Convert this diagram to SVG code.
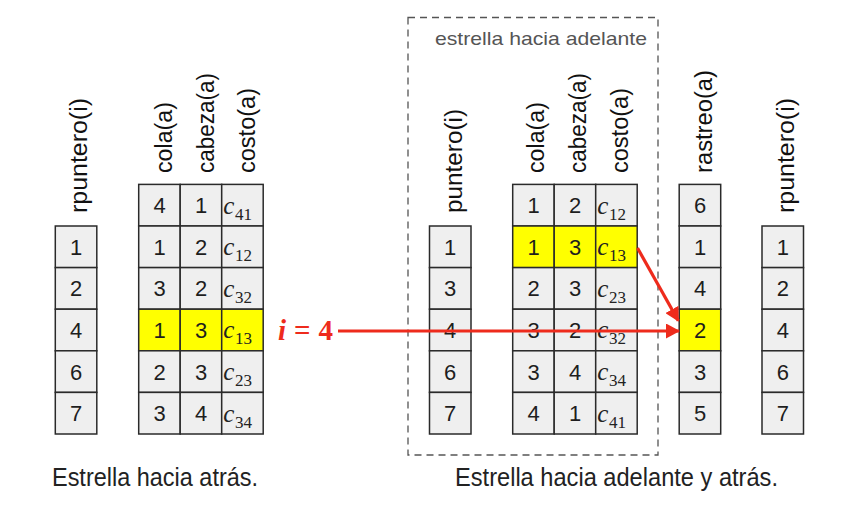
<svg xmlns="http://www.w3.org/2000/svg" width="844" height="514" viewBox="0 0 844 514">
<style>
.cell{fill:#efefef;stroke:#2a2a2a;stroke-width:1.5}
.hl{fill:#ffff00}
.num{font-family:"Liberation Sans",Arial,sans-serif;font-size:22px;text-anchor:middle;fill:#1e1e1e}
.c{font-family:"Liberation Serif","Times New Roman",serif;font-style:italic;font-size:25px;fill:#222}
.sub{font-family:"Liberation Serif","Times New Roman",serif;font-size:17px;fill:#222}
.hdr{font-family:"Liberation Sans",Arial,sans-serif;font-size:23px;fill:#111}
.cap{font-family:"Liberation Sans",Arial,sans-serif;font-size:26px;fill:#222}
.box{fill:none;stroke:#555;stroke-width:1.3;stroke-dasharray:7 5}
.red{stroke:#ee2b1c;stroke-width:3.2;fill:none}
</style>
<defs>
<marker id="ah" viewBox="0 0 14 15" refX="13" refY="7.5" markerWidth="14" markerHeight="15" orient="auto" markerUnits="userSpaceOnUse">
<path d="M0,0 L14,7.5 L0,15 z" fill="#ee2b1c"/>
</marker>
</defs>
<rect width="844" height="514" fill="#ffffff"/>

<g id="frame-adelante">
<rect class="box" x="408" y="17.5" width="250" height="437.5"/>
<text x="435" y="45" font-family="Liberation Sans, Arial, sans-serif" font-size="19" fill="#555" textLength="212" lengthAdjust="spacingAndGlyphs">estrella hacia adelante</text>
</g>

<g id="left-rpuntero">
<text class="hdr" transform="translate(87.3,213) rotate(-90)" textLength="115" lengthAdjust="spacingAndGlyphs">rpuntero(i)</text>
<rect class="cell" x="55.3" y="226" width="41.5" height="41.6"/>
<rect class="cell" x="55.3" y="267.6" width="41.5" height="41.6"/>
<rect class="cell" x="55.3" y="309.2" width="41.5" height="41.6"/>
<rect class="cell" x="55.3" y="350.8" width="41.5" height="41.6"/>
<rect class="cell" x="55.3" y="392.4" width="41.5" height="41.6"/>
<text class="num" x="76" y="254.8">1</text>
<text class="num" x="76" y="296.4">2</text>
<text class="num" x="76" y="338">4</text>
<text class="num" x="76" y="379.6">6</text>
<text class="num" x="76" y="421.2">7</text>
</g>

<g id="left-arcos">
<text class="hdr" transform="translate(172.2,173) rotate(-90)" textLength="71" lengthAdjust="spacingAndGlyphs">cola(a)</text>
<text class="hdr" transform="translate(213.7,173) rotate(-90)" textLength="100" lengthAdjust="spacingAndGlyphs">cabeza(a)</text>
<text class="hdr" transform="translate(254.7,173) rotate(-90)" textLength="85" lengthAdjust="spacingAndGlyphs">costo(a)</text>
<rect class="cell" x="138.7" y="184.4" width="41.5" height="41.6"/><rect class="cell" x="180.2" y="184.4" width="41.5" height="41.6"/><rect class="cell" x="221.7" y="184.4" width="41.5" height="41.6"/>
<rect class="cell" x="138.7" y="226" width="41.5" height="41.6"/><rect class="cell" x="180.2" y="226" width="41.5" height="41.6"/><rect class="cell" x="221.7" y="226" width="41.5" height="41.6"/>
<rect class="cell" x="138.7" y="267.6" width="41.5" height="41.6"/><rect class="cell" x="180.2" y="267.6" width="41.5" height="41.6"/><rect class="cell" x="221.7" y="267.6" width="41.5" height="41.6"/>
<rect class="cell hl" x="138.7" y="309.2" width="41.5" height="41.6"/><rect class="cell hl" x="180.2" y="309.2" width="41.5" height="41.6"/><rect class="cell hl" x="221.7" y="309.2" width="41.5" height="41.6"/>
<rect class="cell" x="138.7" y="350.8" width="41.5" height="41.6"/><rect class="cell" x="180.2" y="350.8" width="41.5" height="41.6"/><rect class="cell" x="221.7" y="350.8" width="41.5" height="41.6"/>
<rect class="cell" x="138.7" y="392.4" width="41.5" height="41.6"/><rect class="cell" x="180.2" y="392.4" width="41.5" height="41.6"/><rect class="cell" x="221.7" y="392.4" width="41.5" height="41.6"/>
<text class="num" x="159.5" y="213.2">4</text><text class="num" x="201" y="213.2">1</text>
<text class="num" x="159.5" y="254.8">1</text><text class="num" x="201" y="254.8">2</text>
<text class="num" x="159.5" y="296.4">3</text><text class="num" x="201" y="296.4">2</text>
<text class="num" x="159.5" y="338">1</text><text class="num" x="201" y="338">3</text>
<text class="num" x="159.5" y="379.6">2</text><text class="num" x="201" y="379.6">3</text>
<text class="num" x="159.5" y="421.2">3</text><text class="num" x="201" y="421.2">4</text>
<text class="c" x="223.2" y="213.5">c</text><text class="sub" x="235" y="219.5">41</text>
<text class="c" x="223.2" y="255.1">c</text><text class="sub" x="235" y="261.1">12</text>
<text class="c" x="223.2" y="296.7">c</text><text class="sub" x="235" y="302.7">32</text>
<text class="c" x="223.2" y="338.3">c</text><text class="sub" x="235" y="344.3">13</text>
<text class="c" x="223.2" y="379.9">c</text><text class="sub" x="235" y="385.9">23</text>
<text class="c" x="223.2" y="421.5">c</text><text class="sub" x="235" y="427.5">34</text>
</g>

<g id="label-i4">
<text x="278" y="340" font-family="Liberation Serif, Times New Roman, serif" font-size="29" font-weight="bold" fill="#ee2b1c"><tspan font-style="italic">i</tspan><tspan dx="8">=</tspan><tspan dx="8">4</tspan></text>
</g>

<g id="right-puntero">
<text class="hdr" transform="translate(461.5,213) rotate(-90)" textLength="104" lengthAdjust="spacingAndGlyphs">puntero(i)</text>
<rect class="cell" x="429.5" y="226" width="41.5" height="41.6"/>
<rect class="cell" x="429.5" y="267.6" width="41.5" height="41.6"/>
<rect class="cell" x="429.5" y="309.2" width="41.5" height="41.6"/>
<rect class="cell" x="429.5" y="350.8" width="41.5" height="41.6"/>
<rect class="cell" x="429.5" y="392.4" width="41.5" height="41.6"/>
<text class="num" x="450.2" y="254.8">1</text>
<text class="num" x="450.2" y="296.4">3</text>
<text class="num" x="450.2" y="338">4</text>
<text class="num" x="450.2" y="379.6">6</text>
<text class="num" x="450.2" y="421.2">7</text>
</g>

<g id="right-arcos">
<text class="hdr" transform="translate(544,173) rotate(-90)" textLength="71" lengthAdjust="spacingAndGlyphs">cola(a)</text>
<text class="hdr" transform="translate(585.5,173) rotate(-90)" textLength="100" lengthAdjust="spacingAndGlyphs">cabeza(a)</text>
<text class="hdr" transform="translate(627.7,173) rotate(-90)" textLength="85" lengthAdjust="spacingAndGlyphs">costo(a)</text>
<rect class="cell" x="512.7" y="184.4" width="41.5" height="41.6"/><rect class="cell" x="554.2" y="184.4" width="41.5" height="41.6"/><rect class="cell" x="595.7" y="184.4" width="41.5" height="41.6"/>
<rect class="cell hl" x="512.7" y="226" width="41.5" height="41.6"/><rect class="cell hl" x="554.2" y="226" width="41.5" height="41.6"/><rect class="cell hl" x="595.7" y="226" width="41.5" height="41.6"/>
<rect class="cell" x="512.7" y="267.6" width="41.5" height="41.6"/><rect class="cell" x="554.2" y="267.6" width="41.5" height="41.6"/><rect class="cell" x="595.7" y="267.6" width="41.5" height="41.6"/>
<rect class="cell" x="512.7" y="309.2" width="41.5" height="41.6"/><rect class="cell" x="554.2" y="309.2" width="41.5" height="41.6"/><rect class="cell" x="595.7" y="309.2" width="41.5" height="41.6"/>
<rect class="cell" x="512.7" y="350.8" width="41.5" height="41.6"/><rect class="cell" x="554.2" y="350.8" width="41.5" height="41.6"/><rect class="cell" x="595.7" y="350.8" width="41.5" height="41.6"/>
<rect class="cell" x="512.7" y="392.4" width="41.5" height="41.6"/><rect class="cell" x="554.2" y="392.4" width="41.5" height="41.6"/><rect class="cell" x="595.7" y="392.4" width="41.5" height="41.6"/>
<text class="num" x="533.5" y="213.2">1</text><text class="num" x="575" y="213.2">2</text>
<text class="num" x="533.5" y="254.8">1</text><text class="num" x="575" y="254.8">3</text>
<text class="num" x="533.5" y="296.4">2</text><text class="num" x="575" y="296.4">3</text>
<text class="num" x="533.5" y="338">3</text><text class="num" x="575" y="338">2</text>
<text class="num" x="533.5" y="379.6">3</text><text class="num" x="575" y="379.6">4</text>
<text class="num" x="533.5" y="421.2">4</text><text class="num" x="575" y="421.2">1</text>
<text class="c" x="597.2" y="213.5">c</text><text class="sub" x="609" y="219.5">12</text>
<text class="c" x="597.2" y="255.1">c</text><text class="sub" x="609" y="261.1">13</text>
<text class="c" x="597.2" y="296.7">c</text><text class="sub" x="609" y="302.7">23</text>
<text class="c" x="597.2" y="338.3">c</text><text class="sub" x="609" y="344.3">32</text>
<text class="c" x="597.2" y="379.9">c</text><text class="sub" x="609" y="385.9">34</text>
<text class="c" x="597.2" y="421.5">c</text><text class="sub" x="609" y="427.5">41</text>
</g>

<g id="right-rastreo">
<text class="hdr" transform="translate(712.2,173) rotate(-90)" textLength="103" lengthAdjust="spacingAndGlyphs">rastreo(a)</text>
<rect class="cell" x="679.2" y="184.4" width="41.5" height="41.6"/>
<rect class="cell" x="679.2" y="226" width="41.5" height="41.6"/>
<rect class="cell" x="679.2" y="267.6" width="41.5" height="41.6"/>
<rect class="cell hl" x="679.2" y="309.2" width="41.5" height="41.6"/>
<rect class="cell" x="679.2" y="350.8" width="41.5" height="41.6"/>
<rect class="cell" x="679.2" y="392.4" width="41.5" height="41.6"/>
<text class="num" x="700" y="213.2">6</text>
<text class="num" x="700" y="254.8">1</text>
<text class="num" x="700" y="296.4">4</text>
<text class="num" x="700" y="338">2</text>
<text class="num" x="700" y="379.6">3</text>
<text class="num" x="700" y="421.2">5</text>
</g>

<g id="right-rpuntero">
<text class="hdr" transform="translate(794,213) rotate(-90)" textLength="115" lengthAdjust="spacingAndGlyphs">rpuntero(i)</text>
<rect class="cell" x="762" y="226" width="41.5" height="41.6"/>
<rect class="cell" x="762" y="267.6" width="41.5" height="41.6"/>
<rect class="cell" x="762" y="309.2" width="41.5" height="41.6"/>
<rect class="cell" x="762" y="350.8" width="41.5" height="41.6"/>
<rect class="cell" x="762" y="392.4" width="41.5" height="41.6"/>
<text class="num" x="782.8" y="254.8">1</text>
<text class="num" x="782.8" y="296.4">2</text>
<text class="num" x="782.8" y="338">4</text>
<text class="num" x="782.8" y="379.6">6</text>
<text class="num" x="782.8" y="421.2">7</text>
</g>

<g id="connectors">
<line class="red" x1="338" y1="331" x2="679" y2="331" marker-end="url(#ah)"/>
<line class="red" x1="637.5" y1="248" x2="678.3" y2="320.8" marker-end="url(#ah)"/>
</g>

<g id="captions">
<text class="cap" x="52" y="486" textLength="206" lengthAdjust="spacingAndGlyphs">Estrella hacia atrás.</text>
<text class="cap" x="455" y="486" textLength="323" lengthAdjust="spacingAndGlyphs">Estrella hacia adelante y atrás.</text>
</g>
</svg>
